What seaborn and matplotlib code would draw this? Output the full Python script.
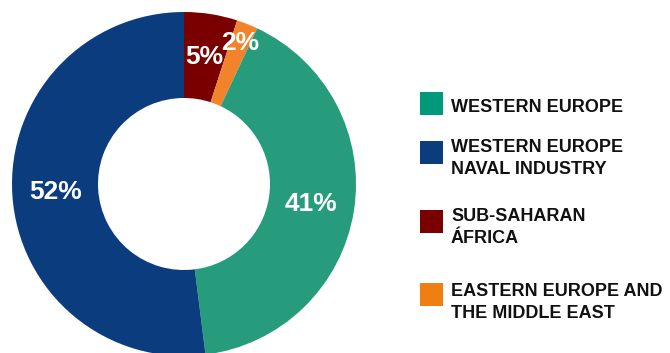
import matplotlib
matplotlib.use("Agg")
import matplotlib.pyplot as plt
import seaborn as sns
from matplotlib.patches import Rectangle

# ---- data ----
categories = ["WESTERN EUROPE", "WESTERN EUROPE\nNAVAL INDUSTRY",
              "SUB-SAHARAN\nÁFRICA", "EASTERN EUROPE AND\nTHE MIDDLE EAST"]
shares = [41, 52, 5, 2]
colors = ["#279C7D", "#0B3D7E", "#7A0000", "#F2832A"]
legend_colors = ["#009A7A", "#0B3D7E", "#7A0000", "#F07F12"]
# clockwise drawing order from 12 o'clock
plot_order = [2, 3, 0, 1]

sns.set_theme(style="white")
plt.rcParams["font.family"] = ["Liberation Sans", "DejaVu Sans"]

W, H = 670, 353
fig = plt.figure(figsize=(W / 100, H / 100), dpi=100)
cx, cy, R = 184, 184, 172
ax = fig.add_axes([(cx - R) / W, (H - cy - R) / H, 2 * R / W, 2 * R / H])

vals = [shares[i] for i in plot_order]
cols = [colors[i] for i in plot_order]
wedges, texts, autotexts = ax.pie(
    vals, colors=cols, startangle=90, counterclock=False,
    autopct="%.0f%%", pctdistance=0.75,
    wedgeprops=dict(width=0.5, linewidth=0),
    textprops=dict(color="white", fontsize=19, fontweight="bold"))
ax.set_xlim(-1, 1)
ax.set_ylim(-1, 1)
ax.set_aspect("equal")
ax.axis("off")
for w in wedges:
    w.set_clip_on(False)

# the smallest slice label sits farther out
for i, t in zip(plot_order, autotexts):
    if shares[i] == 2:
        x, y = t.get_position()
        t.set_position((x * 0.88 / 0.75, y * 0.88 / 0.75))

# ---- legend (manual, uneven spacing as in original) ----
sq_tops = [92, 141, 210, 283]
baselines = [[111.5], [151.5, 174], [221, 243], [296, 317.5]]
for k, lab in enumerate(categories):
    fig.patches.append(Rectangle((420 / W, 1 - (sq_tops[k] + 23) / H), 23 / W, 23 / H,
                                 transform=fig.transFigure, color=legend_colors[k],
                                 linewidth=0))
    for line, b in zip(lab.split("\n"), baselines[k]):
        fig.text(451 / W, 1 - b / H, line, fontsize=13, fontweight="bold",
                 color="#111111", va="baseline", ha="left")

fig.savefig("out.png", dpi=100)
